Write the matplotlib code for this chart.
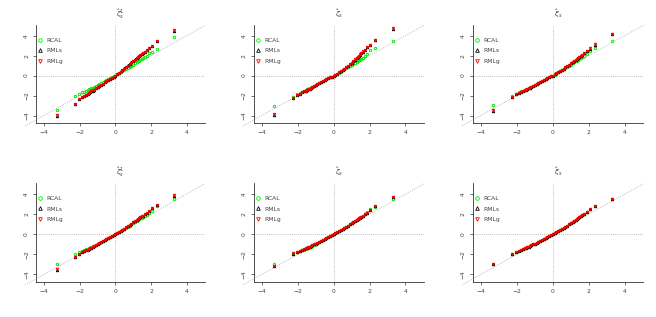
import matplotlib
matplotlib.use("Agg")
import matplotlib.pyplot as plt
from matplotlib.lines import Line2D

# theoretical quantiles (shared by all panels)
x_q = [-3.30, -2.28, -2.05, -1.88, -1.75, -1.64, -1.55, -1.48, -1.41, -1.34, -1.28, -1.20,
       -1.10, -1.00, -0.90, -0.80, -0.70, -0.60, -0.50, -0.40, -0.30, -0.20, -0.10, 0.00,
       0.10, 0.20, 0.30, 0.40, 0.50, 0.60, 0.70, 0.80, 0.90, 1.00, 1.10, 1.20, 1.28, 1.34,
       1.41, 1.48, 1.55, 1.64, 1.75, 1.88, 2.05, 2.33, 3.30]

p1_rcal = [-3.40, -2.03, -1.80, -1.68, -1.60, -1.52, -1.45, -1.39, -1.33, -1.27, -1.21, -1.14,
           -1.05, -0.96, -0.87, -0.77, -0.68, -0.58, -0.48, -0.38, -0.28, -0.19, -0.09, 0.00,
           0.11, 0.22, 0.33, 0.44, 0.55, 0.66, 0.77, 0.88, 1.00, 1.11, 1.23, 1.34, 1.43, 1.50,
           1.58, 1.66, 1.74, 1.85, 1.98, 2.23, 2.40, 2.65, 3.90]
p1_rmls = [-4.05, -2.85, -2.38, -2.17, -2.02, -1.91, -1.81, -1.73, -1.65, -1.57, -1.50, -1.41,
           -1.29, -1.17, -1.05, -0.93, -0.81, -0.69, -0.58, -0.46, -0.35, -0.23, -0.12, 0.00,
           0.13, 0.27, 0.42, 0.57, 0.72, 0.87, 1.02, 1.17, 1.32, 1.47, 1.62, 1.77, 1.89, 1.98,
           2.08, 2.18, 2.28, 2.41, 2.58, 2.78, 2.97, 3.42, 4.50]
p1_rmlg = [-3.90, -2.80, -2.35, -2.15, -2.00, -1.90, -1.80, -1.72, -1.64, -1.56, -1.49, -1.40,
           -1.28, -1.16, -1.04, -0.92, -0.80, -0.68, -0.57, -0.46, -0.35, -0.23, -0.12, 0.00,
           0.13, 0.27, 0.41, 0.56, 0.71, 0.86, 1.01, 1.16, 1.31, 1.46, 1.61, 1.76, 1.88, 1.97,
           2.07, 2.17, 2.27, 2.40, 2.57, 2.80, 3.00, 3.47, 4.57]

p2_rcal = [-3.00, -2.10, -1.83, -1.72, -1.62, -1.52, -1.45, -1.39, -1.33, -1.27, -1.21, -1.14,
           -1.04, -0.95, -0.86, -0.77, -0.67, -0.58, -0.48, -0.39, -0.29, -0.19, -0.10, 0.00,
           0.10, 0.20, 0.30, 0.41, 0.52, 0.63, 0.74, 0.85, 0.96, 1.07, 1.18, 1.30, 1.38, 1.45,
           1.52, 1.60, 1.68, 1.78, 1.95, 2.20, 2.55, 2.73, 3.50]
p2_rmls = [-3.95, -2.25, -1.97, -1.81, -1.69, -1.59, -1.51, -1.45, -1.38, -1.32, -1.25, -1.17,
           -1.07, -0.97, -0.88, -0.78, -0.68, -0.59, -0.49, -0.39, -0.29, -0.19, -0.10, 0.00,
           0.10, 0.21, 0.33, 0.45, 0.58, 0.71, 0.85, 0.99, 1.14, 1.29, 1.44, 1.61, 1.75, 1.86,
           1.98, 2.11, 2.24, 2.41, 2.59, 2.85, 3.05, 3.55, 4.70]
p2_rmlg = [-3.87, -2.20, -1.95, -1.80, -1.68, -1.58, -1.50, -1.44, -1.37, -1.31, -1.25, -1.17,
           -1.07, -0.97, -0.88, -0.78, -0.68, -0.59, -0.49, -0.39, -0.29, -0.19, -0.10, 0.00,
           0.10, 0.21, 0.33, 0.45, 0.58, 0.71, 0.85, 1.00, 1.14, 1.29, 1.45, 1.62, 1.76, 1.87,
           1.99, 2.12, 2.25, 2.42, 2.60, 2.87, 3.07, 3.57, 4.73]

p3_rcal = [-2.97, -2.00, -1.80, -1.68, -1.58, -1.50, -1.43, -1.37, -1.31, -1.25, -1.19, -1.12,
           -1.02, -0.93, -0.84, -0.74, -0.65, -0.56, -0.46, -0.37, -0.28, -0.18, -0.09, 0.00,
           0.10, 0.21, 0.32, 0.43, 0.54, 0.65, 0.76, 0.88, 0.99, 1.10, 1.22, 1.34, 1.43, 1.50,
           1.58, 1.66, 1.74, 1.84, 1.97, 2.15, 2.50, 2.73, 3.50]
p3_rmls = [-3.50, -2.15, -1.85, -1.73, -1.63, -1.54, -1.47, -1.41, -1.35, -1.29, -1.22, -1.14,
           -1.05, -0.95, -0.85, -0.76, -0.66, -0.57, -0.47, -0.38, -0.28, -0.19, -0.09, 0.00,
           0.11, 0.23, 0.35, 0.47, 0.59, 0.71, 0.84, 0.96, 1.09, 1.22, 1.35, 1.48, 1.59, 1.67,
           1.76, 1.86, 1.95, 2.08, 2.25, 2.46, 2.70, 3.10, 4.12]
p3_rmlg = [-3.43, -2.10, -1.83, -1.72, -1.62, -1.53, -1.46, -1.40, -1.34, -1.28, -1.22, -1.14,
           -1.05, -0.95, -0.85, -0.76, -0.66, -0.57, -0.47, -0.38, -0.28, -0.19, -0.09, 0.00,
           0.11, 0.23, 0.35, 0.47, 0.59, 0.71, 0.84, 0.96, 1.09, 1.22, 1.35, 1.48, 1.59, 1.67,
           1.76, 1.86, 1.95, 2.08, 2.25, 2.48, 2.73, 3.13, 4.17]

p4_rcal = [-2.97, -1.97, -1.80, -1.68, -1.59, -1.51, -1.44, -1.38, -1.32, -1.26, -1.20, -1.12,
           -1.03, -0.94, -0.84, -0.75, -0.66, -0.56, -0.47, -0.37, -0.28, -0.19, -0.09, 0.00,
           0.10, 0.21, 0.32, 0.43, 0.54, 0.65, 0.76, 0.87, 0.98, 1.09, 1.21, 1.33, 1.42, 1.49,
           1.57, 1.65, 1.73, 1.83, 1.96, 2.12, 2.35, 2.77, 3.50]
p4_rmls = [-3.55, -2.30, -1.99, -1.81, -1.71, -1.61, -1.53, -1.46, -1.39, -1.33, -1.26, -1.18,
           -1.08, -0.98, -0.88, -0.78, -0.68, -0.58, -0.48, -0.38, -0.29, -0.19, -0.10, 0.00,
           0.11, 0.22, 0.34, 0.45, 0.57, 0.69, 0.81, 0.93, 1.05, 1.17, 1.29, 1.42, 1.52, 1.59,
           1.68, 1.77, 1.86, 1.98, 2.12, 2.30, 2.58, 2.90, 3.82]
p4_rmlg = [-3.50, -2.27, -1.97, -1.80, -1.70, -1.60, -1.52, -1.45, -1.38, -1.32, -1.26, -1.18,
           -1.08, -0.98, -0.88, -0.78, -0.68, -0.58, -0.48, -0.38, -0.29, -0.19, -0.10, 0.00,
           0.11, 0.22, 0.34, 0.45, 0.57, 0.69, 0.81, 0.93, 1.05, 1.17, 1.29, 1.42, 1.52, 1.59,
           1.68, 1.77, 1.86, 1.98, 2.12, 2.30, 2.60, 2.93, 3.87]

p5_rcal = [-3.00, -1.83, -1.76, -1.68, -1.60, -1.53, -1.47, -1.41, -1.35, -1.29, -1.23, -1.15,
           -1.05, -0.95, -0.85, -0.76, -0.66, -0.56, -0.47, -0.37, -0.28, -0.18, -0.09, 0.00,
           0.10, 0.21, 0.32, 0.43, 0.54, 0.65, 0.76, 0.87, 0.99, 1.11, 1.23, 1.35, 1.44, 1.51,
           1.59, 1.67, 1.75, 1.86, 2.00, 2.17, 2.53, 2.70, 3.50]
p5_rmls = [-3.20, -1.92, -1.74, -1.62, -1.53, -1.46, -1.39, -1.34, -1.28, -1.23, -1.17, -1.10,
           -1.01, -0.92, -0.83, -0.74, -0.65, -0.55, -0.46, -0.37, -0.28, -0.18, -0.09, 0.00,
           0.10, 0.21, 0.32, 0.43, 0.54, 0.65, 0.76, 0.87, 0.98, 1.10, 1.21, 1.33, 1.42, 1.49,
           1.57, 1.65, 1.73, 1.84, 1.98, 2.15, 2.43, 2.77, 3.75]
p5_rmlg = [-3.17, -1.90, -1.73, -1.62, -1.53, -1.46, -1.39, -1.34, -1.28, -1.23, -1.17, -1.10,
           -1.01, -0.92, -0.83, -0.74, -0.65, -0.55, -0.46, -0.37, -0.28, -0.18, -0.09, 0.00,
           0.10, 0.21, 0.32, 0.43, 0.54, 0.65, 0.76, 0.87, 0.98, 1.10, 1.21, 1.33, 1.42, 1.49,
           1.57, 1.65, 1.73, 1.84, 1.98, 2.15, 2.43, 2.77, 3.67]

p6_rcal = [-2.97, -1.97, -1.77, -1.63, -1.55, -1.47, -1.40, -1.34, -1.29, -1.23, -1.18, -1.10,
           -1.01, -0.92, -0.83, -0.74, -0.65, -0.55, -0.46, -0.37, -0.28, -0.18, -0.09, 0.00,
           0.10, 0.21, 0.32, 0.43, 0.54, 0.65, 0.76, 0.87, 0.98, 1.10, 1.22, 1.34, 1.44, 1.51,
           1.60, 1.69, 1.78, 1.90, 2.04, 2.20, 2.53, 2.77, 3.50]
p6_rmls = list(p6_rcal)
p6_rmlg = list(p6_rcal)

titles = [r'$\hat{\zeta}_{s}^{1}$', r'$\hat{\zeta}_{s}$', r'$\hat{\xi}_{s}$',
          r'$\hat{\zeta}_{s}^{1}$', r'$\hat{\zeta}_{s}$', r'$\hat{\xi}_{s}$']
series_names = ['RCAL', 'RMLs', 'RMLg']
series_colors = ['#00EE00', 'black', '#FF0000']
series_markers = ['o', '^', 'v']
x_ticks = [-4, -2, 0, 2, 4]
y_ticks = [-4, -2, 0, 2, 4]

panels = [(p1_rcal, p1_rmls, p1_rmlg), (p2_rcal, p2_rmls, p2_rmlg), (p3_rcal, p3_rmls, p3_rmlg),
          (p4_rcal, p4_rmls, p4_rmlg), (p5_rcal, p5_rmls, p5_rmlg), (p6_rcal, p6_rmls, p6_rmlg)]

W, H = 656, 317
fig = plt.figure(figsize=(W / 100, H / 100), dpi=100)
lefts = [36, 253.7, 472.7]
widths = [169, 170.3, 170.6]
rows = [(25, 122.7), (183.3, 281.7)]

grey = '#AAAAAA'
for i, ys in enumerate(panels):
    r, c = divmod(i, 3)
    top, bot = rows[r]
    ax = fig.add_axes([lefts[c] / W, (H - bot) / H, widths[c] / W, (bot - top) / H])
    ax.set_xlim(-4.45, 5.03)
    ax.set_ylim(-4.72, 5.07)
    for s in ('top', 'right'):
        ax.spines[s].set_visible(False)
    for s in ('left', 'bottom'):
        ax.spines[s].set_linewidth(0.6)
        ax.spines[s].set_color('#333333')
    ax.set_xticks(x_ticks)
    ax.set_yticks(y_ticks)
    ax.set_xticklabels([str(t).replace('-', '\u2212') for t in x_ticks])
    ax.set_yticklabels([str(t).replace('-', '\u2212') for t in y_ticks], rotation=90, va='center')
    ax.tick_params(axis='both', length=2.5, width=0.5, labelsize=4.3, pad=2.5,
                   colors='#333333', labelcolor='#444444')
    ax.plot([-5.05, 5.03], [-5.05, 5.03], ls=(0, (1, 1.5)), color=grey, lw=0.6, clip_on=False)
    ax.axhline(0, ls=(0, (1, 1.5)), color=grey, lw=0.6)
    ax.axvline(0, ls=(0, (1, 1.5)), color=grey, lw=0.6)
    for yv, col, mk in zip(ys, series_colors, series_markers):
        ax.plot(x_q, yv, ls='none', marker=mk, ms=1.7, mfc='none', mec=col, mew=0.7)
    handles = [Line2D([], [], ls='none', marker=mk, ms=2.6, mfc='none', mec=col, mew=0.6)
               for col, mk in zip(series_colors, series_markers)]
    ax.legend(handles, series_names, loc='upper left', bbox_to_anchor=(0.005, 0.885),
              frameon=False, fontsize=4.3, handlelength=0.8, handletextpad=0.6,
              labelspacing=0.9, borderpad=0.2, borderaxespad=0.0, labelcolor='#444444')
    ax.set_title(titles[i], fontsize=5, pad=6, color='#444444')

fig.savefig('out.png', dpi=100)
